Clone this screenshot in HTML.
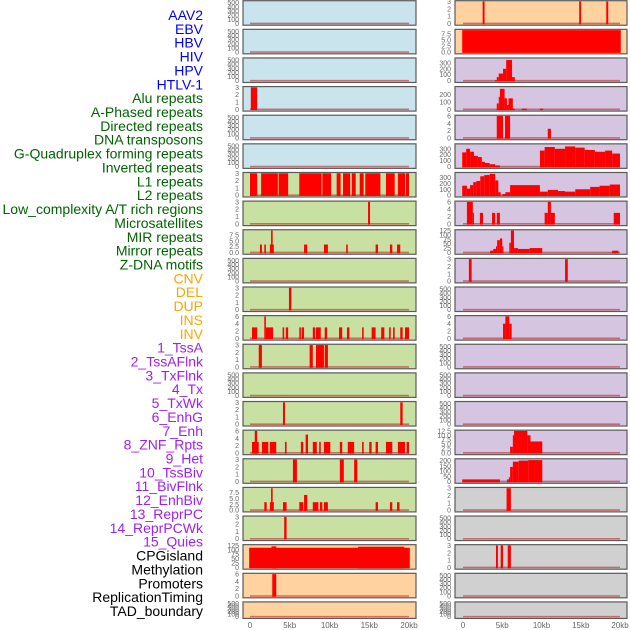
<!DOCTYPE html>
<html><head><meta charset="utf-8"><style>
body{margin:0;background:#fff;width:630px;height:630px;overflow:hidden}
svg{display:block}
</style></head><body>
<svg id="chart" width="630" height="630" xmlns="http://www.w3.org/2000/svg"></svg>
<script>
const trackLabels = ["AAV2","EBV","HBV","HIV","HPV","HTLV-1","Alu repeats","A-Phased repeats","Directed repeats","DNA transposons","G-Quadruplex forming repeats","Inverted repeats","L1 repeats","L2 repeats","Low_complexity A/T rich regions","Microsatellites","MIR repeats","Mirror repeats","Z-DNA motifs","CNV","DEL","DUP","INS","INV","1_TssA","2_TssAFlnk","3_TxFlnk","4_Tx","5_TxWk","6_EnhG","7_Enh","8_ZNF_Rpts","9_Het","10_TssBiv","11_BivFlnk","12_EnhBiv","13_ReprPC","14_ReprPCWk","15_Quies","CPGisland","Methylation","Promoters","ReplicationTiming","TAD_boundary"];
const labelGroups = [6,13,5,15,5];
const groupColors = ["#0000ff","#006400","#ffa500","#a020f0","#000000"];
const xTickValues = [0,5,10,15,20];
const xTickLabels = ["0","5kb","10kb","15kb","20kb"];
const leftBg = ["b","b","b","b","b","b","g","g","g","g","g","g","g","g","g","g","g","g","g","o","o","o"];
const rightBg = ["o","o","p","p","p","p","p","p","p","p","p","p","p","p","p","p","p","y","y","y","y","y"];
const leftScale = ["500","500","500","3","500","500","3","3","7.5","500","3","6","3","500","3","6","3","7.5","3","125","6","500"];
const rightScale = ["3","7.5e","300","200","6","300","300","6","125","3","500","6","500","500","500","12.5","200b","3","500","3","500","500"];
const leftSpans = [
 [],[],[],
 [[0.1,0.9,3]],
 [],[],
 [[0,0.9,3],[1.4,3.5,3],[3.6,4.8,3],[6.2,9,3],[9.1,10.2,3],[10.9,11.4,3],[11.7,12.6,3],[12.8,13.3,3],[13.8,14.3,3],[14.5,16.4,3],[17.1,18.2,3],[18.6,19.5,3],[19.6,20,3]],
 [[14.85,15.1,3]],
 [[1.25,1.5,3.4],[1.8,2.0,3.4],[2.5,3.0,3.4],[2.65,2.85,9.4],[6.8,7.2,3.4],[9.3,9.8,3.4],[12.1,12.3,3.4],[15.8,16.1,3.4],[17.6,17.9,3.4],[18.5,18.9,3.4]],
 [],
 [[4.9,5.2,3]],
 [[0.25,0.9,3],[1.8,2.0,6],[2.0,2.9,3],[4.1,4.3,3],[4.5,4.8,3],[6.2,6.4,3],[6.5,6.8,3],[7.9,8.2,3],[8.3,8.9,3],[9.4,9.7,3],[11.2,11.6,3],[12.2,12.5,3],[14.1,14.3,3],[15.3,15.8,3],[16.5,16.9,3],[17.5,17.7,3],[18.0,18.2,3],[18.9,19.2,3],[19.5,20,3]],
 [[1.1,1.5,3],[7.5,7.9,3],[8.3,9.3,3],[9.4,9.8,3]],
 [],
 [[4.15,4.4,3],[18.9,19.2,3]],
 [[0.25,1.1,3],[0.6,0.9,6],[1.5,2.3,3],[2.5,3.3,3],[4.4,4.6,3],[6.4,6.7,3],[7.0,7.3,5],[7.9,8.4,3],[8.7,8.9,3],[9.3,10.1,3],[11.3,11.6,3],[12.3,13.1,3],[14.1,14.3,3],[15.0,15.3,3],[15.8,16.1,3],[17.1,17.9,3],[18.6,19.5,3],[19.7,20,3]],
 [[5.4,5.9,3],[11.3,11.8,3],[13.1,13.5,3]],
 [[1.8,2.1,3.4],[2.5,3.0,3.4],[2.65,2.85,9.4],[4.15,4.6,3.4],[6.2,6.7,3.4],[6.8,7.2,6.5],[7.9,8.6,3.4],[8.8,9.1,3.4],[9.3,9.8,3.4],[15.8,16.1,3.4],[17.6,17.9,3.4],[18.5,18.8,3.4]],
 [[4.3,4.6,3]],
 [[-0.1,20.1,112],[2.7,3.3,120],[13.6,19.4,118]],
 [[2.8,3.3,6]],
 []
];
const rightSpans = [
 [[2.5,2.75,3],[14.8,15.05,3],[18.25,18.5,3]],
 [[-0.1,20.1,9]],
 [[4.1,4.3,10],[4.3,4.55,60],[4.55,5.1,120],[5.1,5.5,200],[5.5,6.25,350],[6.25,6.6,60]],
 [[4.3,4.55,80],[4.55,4.7,170],[4.7,5.3,280],[5.3,5.6,150],[5.6,5.8,60],[5.8,6.35,150],[6.35,6.6,10],[7.5,8.1,10],[9.8,10.2,10]],
 [[4.3,5.1,6],[5.35,6.0,6],[10.8,11.2,2.5]],
 [[-0.1,0.4,240],[0.4,0.9,300],[0.9,1.4,250],[1.4,1.9,180],[1.9,2.4,160],[2.4,2.8,80],[2.8,3.4,60],[3.4,4.1,40],[4.1,4.7,20],[9.8,10.4,270],[10.4,11.7,330],[11.7,13,300],[13,14.3,340],[14.3,15.5,320],[15.5,16.8,280],[16.8,18.1,250],[18.1,19,270],[19,20,220]],
 [[-0.1,0.5,160],[0.5,0.9,110],[0.9,1.3,170],[1.3,1.7,220],[1.7,2.2,240],[2.2,2.7,320],[2.7,3.4,340],[3.4,4.1,360],[4.1,4.5,250],[4.5,4.8,50],[5.0,5.4,20],[5.4,6.0,50],[6.0,9.8,170],[9.8,10.8,60],[10.8,12.1,90],[12.1,13,70],[13,14.3,60],[14.3,16.2,100],[16.2,17.4,140],[17.4,18.7,160],[18.7,20,180]],
 [[0.5,1.25,6],[1.25,1.4,3],[2.15,2.55,3],[3.7,4.1,3],[4.3,4.7,3],[10.4,10.8,3],[10.8,11.2,6],[11.2,11.7,3],[19.2,20,3]],
 [[3.45,3.85,10],[3.85,4.2,20],[4.2,4.35,35],[4.35,4.7,70],[4.7,5.0,80],[5.0,5.1,35],[5.9,6.1,55],[6.1,6.5,125],[6.5,7.0,25],[7.0,8.5,20],[8.5,10.1,25],[19.0,19.8,10]],
 [[0.75,1.1,3],[13.0,13.35,3]],
 [],
 [[5.1,5.4,4],[5.4,5.9,6],[5.9,6.2,4]],
 [],[],[],
 [[6.0,6.35,3.5],[6.35,6.5,10],[6.5,8.2,12.5],[8.2,8.6,10],[8.6,10.1,6.5]],
 [[-0.1,4.7,20],[5.6,5.85,20],[5.85,6.0,40],[6.0,6.35,140],[6.35,7.1,190],[7.1,8.3,200],[8.3,10.1,205]],
 [[5.55,6.1,3]],
 [],
 [[4.2,4.45,3],[4.8,5.1,3],[5.7,6.1,3]],
 [],[]
];
const scales = {
 "500":{max:530,ticks:[0,100,200,300,400,500],d:0},
 "3":{max:3,ticks:[0,1,2,3],d:0},
 "6":{max:6,ticks:[0,2,4,6],d:0},
 "7.5":{max:9.4,ticks:[0,2.5,5,7.5],d:1},
 "7.5e":{max:9,ticks:[0,2.5,5,7.5],d:1},
 "125":{max:125,ticks:[0,25,50,75,100,125],d:0},
 "300":{max:370,ticks:[0,100,200,300],d:0},
 "200":{max:300,ticks:[0,100,200],d:0},
 "12.5":{max:12.5,ticks:[0,2.5,5,7.5,10,12.5],d:1},
 "200b":{max:210,ticks:[0,50,100,150,200],d:0}
};
const bgColors = {b:"#c9e4ec",g:"#c8e1a2",o:"#ffd2a0",p:"#d5c5e1",y:"#d0d0d0"};
const NS="http://www.w3.org/2000/svg";
const svg=document.getElementById('chart');
function mk(tag,attrs,parent){const e=document.createElementNS(NS,tag);for(const k in attrs)e.setAttribute(k,attrs[k]);(parent||svg).appendChild(e);return e;}
// labels
let li=0;
labelGroups.forEach((n,g)=>{for(let k=0;k<n;k++){const t=mk('text',{x:203,y:15+li*13.86+5,'text-anchor':'end','font-family':'Liberation Sans, sans-serif','font-size':'14',fill:groupColors[g]});


t.textContent=trackLabels[li];li++;}});
const cols=[{x0:243,x1:416,z0:250,z20:409,bg:leftBg,sc:leftScale,sp:leftSpans,tx:239,name:'left'},
 {x0:455,x1:627,z0:463,z20:620,bg:rightBg,sc:rightScale,sp:rightSpans,tx:451,name:'right'}];
const pitch=28.63;
cols.forEach(c=>{
 const xs=v=>c.z0+(c.z20-c.z0)*v/20;
 for(let i=0;i<22;i++){
  const top=i*pitch+0.7, h=(i==21)?16.5:24.5;
  const g=mk('g',{});
  
  
  mk('rect',{x:c.x0,y:top,width:c.x1-c.x0,height:h,fill:bgColors[c.bg[i]],stroke:'#5a5a5a','stroke-width':1.2},g);
  const s=scales[c.sc[i]];
  const yb=top+h-1.8, yt=top+0.8;
  const ys=v=>yb-(yb-yt)*v/s.max;
  s.ticks.forEach(t=>{const tt=mk('text',{x:c.tx,y:ys(t)+2.5,'text-anchor':'end','font-family':'Liberation Sans, sans-serif','font-size':'7',fill:'#666'},g);
   
   
   tt.textContent=t.toFixed(s.d);});
  mk('line',{x1:xs(0),x2:xs(20),y1:yb,y2:yb,stroke:'rgba(190,40,40,0.6)','stroke-width':1.6},g);
  c.sp[i].forEach(b=>{const r=mk('rect',{x:xs(b[0]),y:ys(b[2]),width:Math.max(1.2,xs(b[1])-xs(b[0])),height:yb-ys(b[2])+0.8,fill:'#ff0000'},g);
   
   });
 }
 xTickValues.forEach((v,k)=>{const t=mk('text',{x:xs(v),y:628,'text-anchor':'middle','font-family':'Liberation Sans, sans-serif','font-size':'8',fill:'#666'});
  
  
  t.textContent=xTickLabels[k];});
});
</script>
</body></html>
